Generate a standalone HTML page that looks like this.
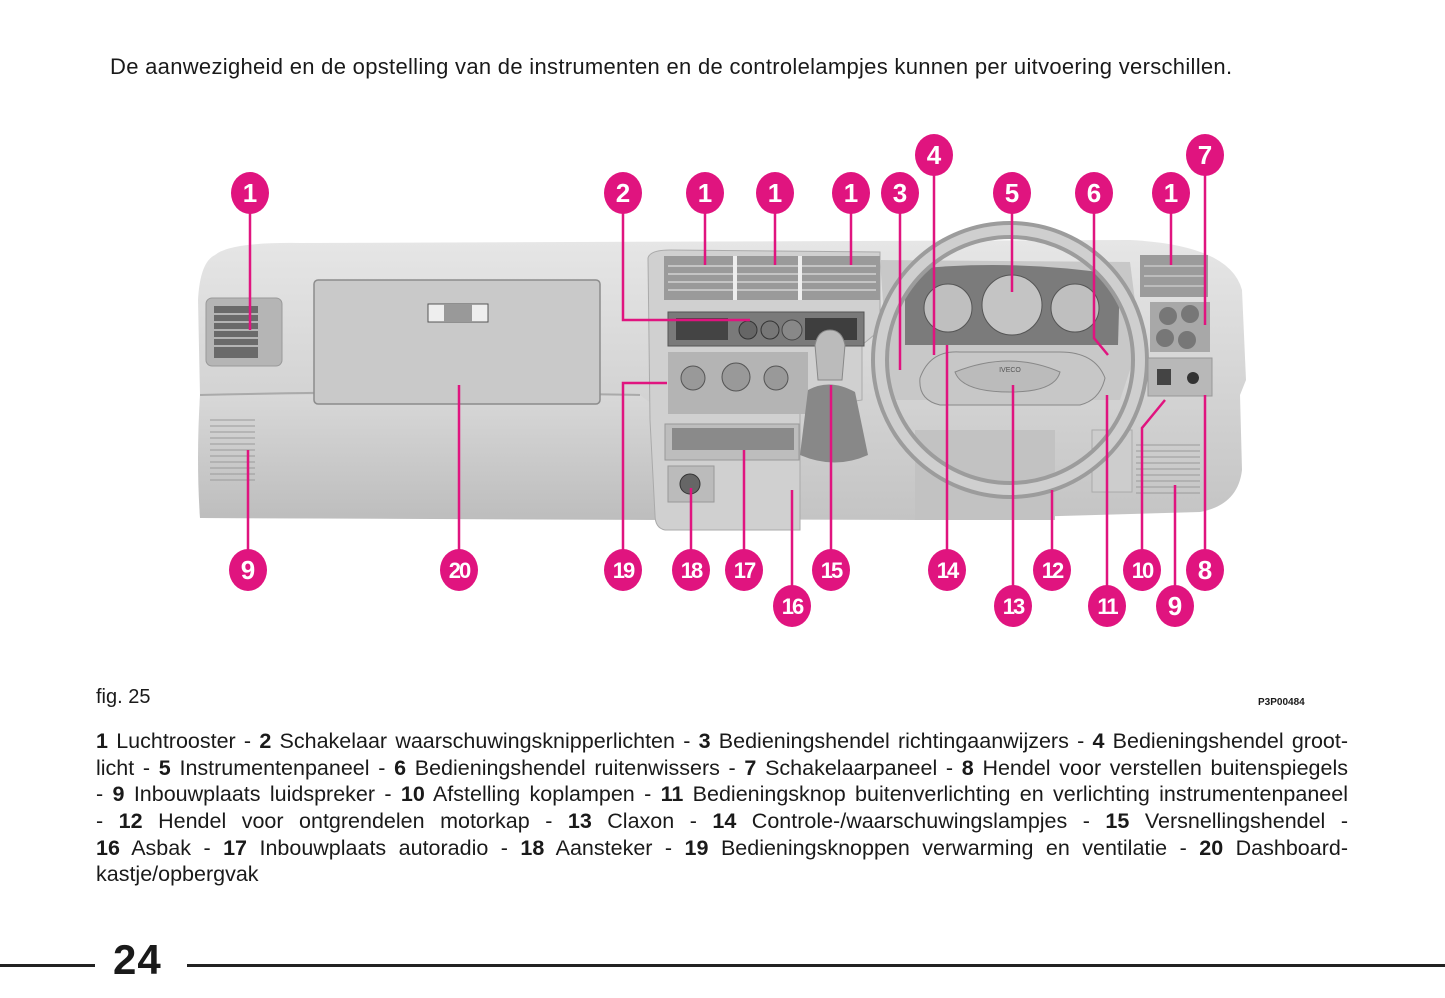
<!DOCTYPE html>
<html><head><meta charset="utf-8"><style>
html,body{margin:0;padding:0;background:#fff;}
body{width:1445px;height:998px;position:relative;overflow:hidden;font-family:"Liberation Sans",sans-serif;color:#1a1a1a;}
.hdr{position:absolute;left:110px;top:54px;font-size:22px;white-space:nowrap;letter-spacing:0.3px;word-spacing:0px;}
.fig{position:absolute;left:96px;top:686px;font-size:20px;}
.code{position:absolute;left:1258px;top:697px;font-size:10px;font-weight:bold;}
.para{position:absolute;left:96px;top:728px;width:1252px;font-size:21.5px;letter-spacing:0px;}
.para div{height:26.7px;line-height:26.7px;white-space:nowrap;text-align:justify;text-align-last:justify;}
.para div.last{text-align-last:left;}
.pn{position:absolute;left:113px;top:936px;font-size:42px;font-weight:900;letter-spacing:1px;}
.rule{position:absolute;top:964px;height:3px;background:#222;}
</style></head><body>
<div class="hdr">De aanwezigheid en de opstelling van de instrumenten en de controlelampjes kunnen per uitvoering verschillen.</div>

<svg width="1445" height="998" style="position:absolute;left:0;top:0" xmlns="http://www.w3.org/2000/svg">
<defs>
<linearGradient id="g1" x1="0" y1="0" x2="0" y2="1"><stop offset="0" stop-color="#e6e6e6"/><stop offset="1" stop-color="#c4c4c4"/></linearGradient>
<linearGradient id="g2" x1="0" y1="0" x2="0" y2="1"><stop offset="0" stop-color="#d8d8d8"/><stop offset="1" stop-color="#bdbdbd"/></linearGradient>
</defs>
<path d="M215 255 Q230 242 300 243 L1130 240 Q1230 245 1242 290 L1246 380 L1240 395 L1242 470 Q1238 505 1200 512 L920 520 L200 518 Q198 460 200 395 L198 300 Q200 262 215 255 Z" fill="url(#g1)"/>
<path d="M200 395 L640 395 L660 410 L660 520 L200 518 Q196 460 200 395Z" fill="url(#g2)"/>
<path d="M200 395 Q400 390 640 395" stroke="#aaa" stroke-width="2" fill="none"/>
<rect x="206" y="298" width="76" height="68" rx="6" fill="#b5b5b5" stroke="#999"/>
<rect x="214" y="306" width="44" height="52" fill="#6a6a6a"/>
<g stroke="#ccc" stroke-width="1.5"><line x1="214" y1="314" x2="258" y2="314"/><line x1="214" y1="322" x2="258" y2="322"/><line x1="214" y1="330" x2="258" y2="330"/><line x1="214" y1="338" x2="258" y2="338"/><line x1="214" y1="346" x2="258" y2="346"/></g>
<g stroke="#9a9a9a" stroke-width="1"><line x1="210" y1="420" x2="255" y2="420"/><line x1="210" y1="426" x2="255" y2="426"/><line x1="210" y1="432" x2="255" y2="432"/><line x1="210" y1="438" x2="255" y2="438"/><line x1="210" y1="444" x2="255" y2="444"/><line x1="210" y1="450" x2="255" y2="450"/><line x1="210" y1="456" x2="255" y2="456"/><line x1="210" y1="462" x2="255" y2="462"/><line x1="210" y1="468" x2="255" y2="468"/><line x1="210" y1="474" x2="255" y2="474"/><line x1="210" y1="480" x2="255" y2="480"/></g>
<rect x="314" y="280" width="286" height="124" rx="4" fill="#c9c9c9" stroke="#8c8c8c" stroke-width="1.5"/>
<rect x="428" y="304" width="60" height="18" fill="#eee" stroke="#555"/>
<rect x="444" y="304" width="28" height="18" fill="#999"/>
<path d="M648 258 Q650 250 670 250 L880 252 L880 330 L862 345 L862 400 L800 410 L800 530 L665 530 Q655 528 655 515 L650 420 Z" fill="#d0d0d0" stroke="#aaa"/>
<rect x="664" y="256" width="216" height="44" fill="#9a9a9a"/>
<g stroke="#ddd" stroke-width="1.3"><line x1="668" y1="266" x2="876" y2="266"/><line x1="668" y1="274" x2="876" y2="274"/><line x1="668" y1="282" x2="876" y2="282"/><line x1="668" y1="290" x2="876" y2="290"/></g>
<line x1="735" y1="256" x2="735" y2="300" stroke="#eee" stroke-width="4"/><line x1="800" y1="256" x2="800" y2="300" stroke="#eee" stroke-width="4"/>
<rect x="668" y="312" width="196" height="34" fill="#7a7a7a" stroke="#555"/>
<rect x="676" y="318" width="52" height="22" fill="#444"/>
<circle cx="748" cy="330" r="9" fill="#666" stroke="#333"/><circle cx="770" cy="330" r="9" fill="#777" stroke="#333"/><circle cx="792" cy="330" r="10" fill="#888" stroke="#444"/>
<rect x="805" y="318" width="52" height="22" fill="#3e3e3e"/>
<rect x="668" y="352" width="140" height="62" fill="#b4b4b4"/>
<circle cx="693" cy="378" r="12" fill="#999" stroke="#555"/><circle cx="736" cy="377" r="14" fill="#999" stroke="#555"/><circle cx="776" cy="378" r="12" fill="#999" stroke="#555"/>
<rect x="665" y="424" width="134" height="36" fill="#bdbdbd" stroke="#999"/><rect x="672" y="428" width="122" height="22" fill="#8a8a8a"/>
<rect x="668" y="466" width="46" height="36" fill="#bbb" stroke="#999"/><circle cx="690" cy="484" r="10" fill="#666" stroke="#333"/>
<path d="M815 345 Q818 330 830 330 Q842 330 845 345 L842 380 L818 380 Z" fill="#bbb" stroke="#888"/>
<path d="M808 390 Q830 378 855 392 L868 455 Q835 470 800 455 Z" fill="#888"/>
<path d="M880 260 L1130 262 L1140 340 L1120 400 L890 400 Z" fill="#c8c8c8"/>
<path d="M905 270 Q1010 258 1120 275 L1118 345 L905 345 Z" fill="#7b7b7b"/>
<circle cx="948" cy="308" r="24" fill="#bfbfbf" stroke="#555"/><circle cx="1012" cy="305" r="30" fill="#c4c4c4" stroke="#555"/><circle cx="1075" cy="308" r="24" fill="#bfbfbf" stroke="#555"/>
<rect x="915" y="430" width="140" height="90" fill="#c2c2c2"/>
<rect x="1092" y="430" width="40" height="62" fill="#cdcdcd" stroke="#aaa"/>
<circle cx="1010" cy="360" r="130" fill="none" stroke="#9c9c9c" stroke-width="18"/>
<circle cx="1010" cy="360" r="130" fill="none" stroke="#cfcfcf" stroke-width="10"/>
<path d="M920 378 Q930 350 960 352 L1060 352 Q1095 352 1105 378 Q1100 400 1080 405 L940 405 Q918 400 920 378Z" fill="#c7c7c7" stroke="#888"/>
<path d="M955 372 Q1010 350 1060 372 Q1055 392 1010 392 Q962 392 955 372Z" fill="#bbb" stroke="#888"/>
<text x="1010" y="372" font-size="7" text-anchor="middle" fill="#555" font-family="Liberation Sans">IVECO</text>
<rect x="1140" y="255" width="68" height="42" fill="#9b9b9b"/>
<g stroke="#ddd"><line x1="1144" y1="266" x2="1205" y2="266"/><line x1="1144" y1="276" x2="1205" y2="276"/><line x1="1144" y1="286" x2="1205" y2="286"/></g>
<rect x="1150" y="302" width="60" height="50" fill="#a8a8a8"/>
<circle cx="1168" cy="316" r="9" fill="#777"/><circle cx="1190" cy="314" r="9" fill="#777"/><circle cx="1165" cy="338" r="9" fill="#777"/><circle cx="1187" cy="340" r="9" fill="#777"/>
<rect x="1148" y="358" width="64" height="38" fill="#b8b8b8" stroke="#999"/>
<rect x="1157" y="369" width="14" height="16" fill="#444"/><circle cx="1193" cy="378" r="6" fill="#333"/>
<g stroke="#9a9a9a" stroke-width="1"><line x1="1136" y1="445" x2="1200" y2="445"/><line x1="1136" y1="451" x2="1200" y2="451"/><line x1="1136" y1="457" x2="1200" y2="457"/><line x1="1136" y1="463" x2="1200" y2="463"/><line x1="1136" y1="469" x2="1200" y2="469"/><line x1="1136" y1="475" x2="1200" y2="475"/><line x1="1136" y1="481" x2="1200" y2="481"/><line x1="1136" y1="487" x2="1200" y2="487"/><line x1="1136" y1="493" x2="1200" y2="493"/></g>

<g stroke="#e0147f" stroke-width="2.5" fill="none">
<path d="M250 211 V330"/><path d="M623 211 V320 H750"/><path d="M705 211 V265"/><path d="M775 211 V265"/><path d="M851 211 V265"/>
<path d="M900 211 V370"/><path d="M934 173 V355"/><path d="M1012 211 V292"/><path d="M1094 211 V338 L1108 355"/>
<path d="M1171 211 V265"/><path d="M1205 173 V325"/><path d="M1205 552 V395"/><path d="M1142 552 V428 L1165 400"/>
<path d="M1107 588 V395"/><path d="M1052 552 V490"/><path d="M1013 588 V385"/><path d="M947 552 V345"/>
<path d="M831 552 V385"/><path d="M792 588 V490"/><path d="M744 552 V450"/><path d="M691 552 V488"/>
<path d="M623 552 V383 H667"/><path d="M459 552 V385"/><path d="M248 552 V450"/><path d="M1175 588 V485"/>
</g>
<g font-family="Liberation Sans" font-weight="bold" font-size="26" fill="#fff" text-anchor="middle">
<g fill="#e0147f">
<ellipse cx="250" cy="193" rx="19" ry="21"/><ellipse cx="623" cy="193" rx="19" ry="21"/><ellipse cx="705" cy="193" rx="19" ry="21"/><ellipse cx="775" cy="193" rx="19" ry="21"/><ellipse cx="851" cy="193" rx="19" ry="21"/><ellipse cx="900" cy="193" rx="19" ry="21"/><ellipse cx="934" cy="155" rx="19" ry="21"/><ellipse cx="1012" cy="193" rx="19" ry="21"/><ellipse cx="1094" cy="193" rx="19" ry="21"/><ellipse cx="1171" cy="193" rx="19" ry="21"/><ellipse cx="1205" cy="155" rx="19" ry="21"/>
<ellipse cx="248" cy="570" rx="19" ry="21"/><ellipse cx="459" cy="570" rx="19" ry="21"/><ellipse cx="623" cy="570" rx="19" ry="21"/><ellipse cx="691" cy="570" rx="19" ry="21"/><ellipse cx="744" cy="570" rx="19" ry="21"/><ellipse cx="792" cy="606" rx="19" ry="21"/><ellipse cx="831" cy="570" rx="19" ry="21"/><ellipse cx="947" cy="570" rx="19" ry="21"/><ellipse cx="1013" cy="606" rx="19" ry="21"/><ellipse cx="1052" cy="570" rx="19" ry="21"/><ellipse cx="1107" cy="606" rx="19" ry="21"/><ellipse cx="1142" cy="570" rx="19" ry="21"/><ellipse cx="1175" cy="606" rx="19" ry="21"/><ellipse cx="1205" cy="570" rx="19" ry="21"/>
</g>
<text x="250" y="202">1</text><text x="623" y="202">2</text><text x="705" y="202">1</text><text x="775" y="202">1</text><text x="851" y="202">1</text><text x="900" y="202">3</text><text x="934" y="164">4</text><text x="1012" y="202">5</text><text x="1094" y="202">6</text><text x="1171" y="202">1</text><text x="1205" y="164">7</text>
<g font-size="22" letter-spacing="-2">
<text x="248" y="579" font-size="26" letter-spacing="0">9</text><text x="459" y="578">20</text><text x="623" y="578">19</text><text x="691" y="578">18</text><text x="744" y="578">17</text><text x="792" y="614">16</text><text x="831" y="578">15</text><text x="947" y="578">14</text><text x="1013" y="614">13</text><text x="1052" y="578">12</text><text x="1107" y="614">11</text><text x="1142" y="578">10</text><text x="1175" y="615" font-size="26" letter-spacing="0">9</text><text x="1205" y="579" font-size="26" letter-spacing="0">8</text>
</g>
</g>
</svg>

<div class="fig">fig. 25</div>
<div class="code">P3P00484</div>
<div class="para">
<div><b>1</b> Luchtrooster - <b>2</b> Schakelaar waarschuwingsknipperlichten - <b>3</b> Bedieningshendel richtingaanwijzers - <b>4</b> Bedieningshendel groot-</div>
<div>licht - <b>5</b> Instrumentenpaneel - <b>6</b> Bedieningshendel ruitenwissers - <b>7</b> Schakelaarpaneel - <b>8</b> Hendel voor verstellen buitenspiegels</div>
<div>- <b>9</b> Inbouwplaats luidspreker - <b>10</b> Afstelling koplampen - <b>11</b> Bedieningsknop buitenverlichting en verlichting instrumentenpaneel</div>
<div>- <b>12</b> Hendel voor ontgrendelen motorkap - <b>13</b> Claxon - <b>14</b> Controle-/waarschuwingslampjes - <b>15</b> Versnellingshendel -</div>
<div><b>16</b> Asbak - <b>17</b> Inbouwplaats autoradio - <b>18</b> Aansteker - <b>19</b> Bedieningsknoppen verwarming en ventilatie - <b>20</b> Dashboard-</div>
<div class="last">kastje/opbergvak</div>
</div>
<div class="rule" style="left:0;width:95px"></div>
<div class="pn">24</div>
<div class="rule" style="left:187px;width:1258px"></div>
</body></html>
